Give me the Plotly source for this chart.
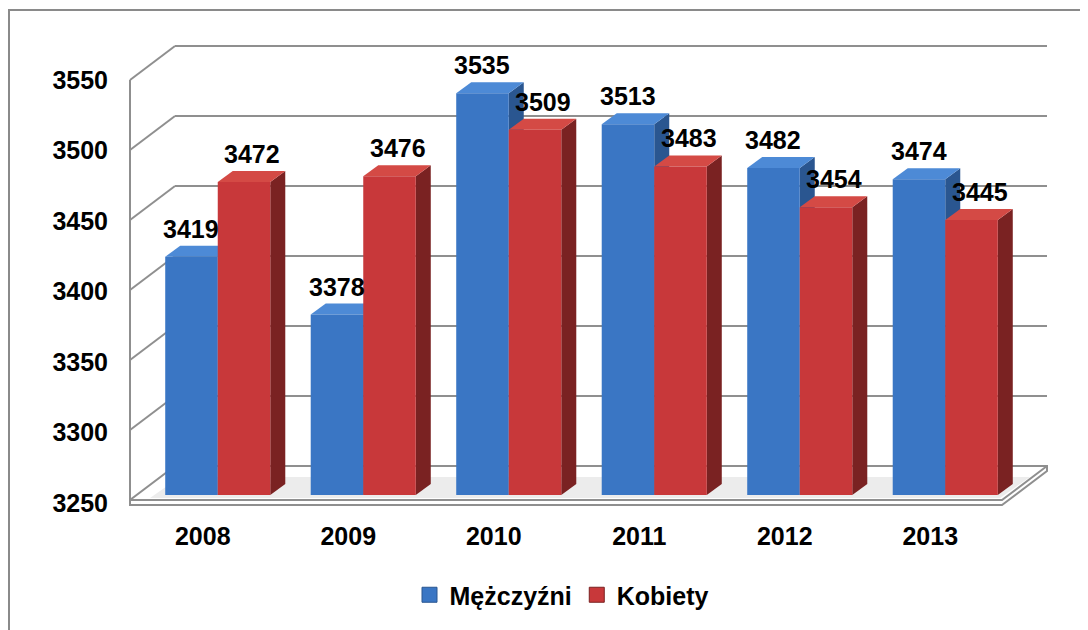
import plotly.graph_objects as go

# ---- data ----
years = ["2008", "2009", "2010", "2011", "2012", "2013"]
men = [3419, 3378, 3535, 3513, 3482, 3474]
women = [3472, 3476, 3509, 3483, 3454, 3445]
series_names = ["Mężczyźni", "Kobiety"]
y_ticks = [3250, 3300, 3350, 3400, 3450, 3500, 3550]
y_min, y_max = 3250, 3550

# ---- layout geometry ----
# the page body has an 8px default margin, so screen positions are offset by OFF
W, H = 1088, 630
OFF = 8
PLOT_L, PLOT_R, PLOT_T, PLOT_B = 145, 1018, 72, 495   # screen pixels of plot area
ML = PLOT_L - OFF
MT = PLOT_T - OFF
MR = W - (PLOT_R - OFF)
MB = H - (PLOT_B - OFF)
PW = PLOT_R - PLOT_L
PH = PLOT_B - PLOT_T
FONT = "Arial, Liberation Sans, sans-serif"

def px_x(px):
    return (px - PLOT_L) / PW

def px_y(py):
    return (PLOT_B - py) / PH

x_idx = list(range(len(years)))
bargap = 0.278
bw = (1 - bargap) / 2
# depth of bars in axis units
dx = 15 / PW * len(years)
dy = 11 / PH * (y_max - y_min)

blue_front, blue_top, blue_side = "#3a76c4", "#4d8ad6", "#2a5690"
red_front, red_top, red_side = "#c8383a", "#d44a45", "#7a2222"
grid_col = "#8f8f8f"

fig = go.Figure()
fig.add_trace(go.Bar(x=x_idx, y=[v - y_min for v in men], base=y_min, name=series_names[0],
                     marker=dict(color=blue_front, line=dict(width=0)), hoverinfo="skip",
                     showlegend=False))
fig.add_trace(go.Bar(x=x_idx, y=[v - y_min for v in women], base=y_min, name=series_names[1],
                     marker=dict(color=red_front, line=dict(width=0)), hoverinfo="skip",
                     showlegend=False))
# legend entries with larger square keys
for nm, col, lc in [(series_names[0], blue_front, "#2a5690"), (series_names[1], red_front, "#7a2222")]:
    fig.add_trace(go.Scatter(x=[None], y=[None], mode="markers", name=nm,
                             marker=dict(symbol="square", size=15, color=col,
                                         line=dict(color=lc, width=1)),
                             hoverinfo="skip"))

shapes = []
# outer chart border
shapes.append(dict(type="rect", xref="paper", yref="paper", x0=px_x(9), x1=px_x(1110),
                   y0=px_y(10), y1=px_y(660), line=dict(color="#8a8a8a", width=2),
                   fillcolor="white", layer="below"))

# wall / gridlines (front plane & back plane)
def front_py(v):
    return 500 - (v - y_min) * 1.4

for v in y_ticks[1:]:
    fy = front_py(v)
    by = fy - 34
    shapes.append(dict(type="line", xref="paper", yref="paper", x0=px_x(130), y0=px_y(fy),
                       x1=px_x(175), y1=px_y(by), line=dict(color=grid_col, width=2), layer="below"))
    shapes.append(dict(type="line", xref="paper", yref="paper", x0=px_x(175), y0=px_y(by),
                       x1=px_x(1047), y1=px_y(by), line=dict(color=grid_col, width=2), layer="below"))
# left wall vertical edge
shapes.append(dict(type="line", xref="paper", yref="paper", x0=px_x(130), y0=px_y(front_py(y_max)),
                   x1=px_x(130), y1=px_y(505), line=dict(color=grid_col, width=2), layer="below"))

# floor slab
def P(px, py):
    return f"{px_x(px)},{px_y(py)}"

floor_path = (f"M{P(130,505)} L{P(1002,505)} L{P(1047,471)} L{P(1047,466)} "
              f"L{P(175,466)} L{P(130,500)} Z")
shapes.append(dict(type="path", xref="paper", yref="paper", path=floor_path,
                   fillcolor="#ffffff", line=dict(color=grid_col, width=2), layer="below"))
shadow_path = f"M{P(150,498)} L{P(1000,498)} L{P(1030,477)} L{P(180,477)} Z"
shapes.append(dict(type="path", xref="paper", yref="paper", path=shadow_path,
                   fillcolor="#ececec", line=dict(width=0), layer="below"))
shapes.append(dict(type="path", xref="paper", yref="paper",
                   path=f"M{P(130,500)} L{P(1002,500)} L{P(1047,466)}",
                   line=dict(color=grid_col, width=2), layer="below"))

# 3D faces of bars
def faces(x0, x1, v, top_col, side_col):
    out = []
    side = (f"M{x1},{y_min} L{x1},{v} L{x1 + dx},{v + dy} L{x1 + dx},{y_min + dy} Z")
    out.append(dict(type="path", xref="x", yref="y", path=side, fillcolor=side_col,
                    line=dict(width=0), layer="below"))
    top = (f"M{x0},{v} L{x1},{v} L{x1 + dx},{v + dy} L{x0 + dx},{v + dy} Z")
    out.append(dict(type="path", xref="x", yref="y", path=top, fillcolor=top_col,
                    line=dict(width=0), layer="below"))
    return out

for i in x_idx:
    shapes += faces(i - bw, i, men[i], blue_top, blue_side)
    shapes += faces(i, i + bw, women[i], red_top, red_side)

annotations = []
for i in x_idx:
    annotations.append(dict(x=i - bw / 2, y=men[i], xref="x", yref="y", text=str(men[i]),
                            showarrow=False, yanchor="bottom", yshift=12, xshift=0,
                            font=dict(family=FONT, size=25, color="black", weight="bold")))
    annotations.append(dict(x=i + bw / 2, y=women[i], xref="x", yref="y", text=str(women[i]),
                            showarrow=False, yanchor="bottom", yshift=12, xshift=8,
                            font=dict(family=FONT, size=25, color="black", weight="bold")))

fig.update_layout(
    width=W, height=H,
    margin=dict(l=ML, r=MR, t=MT, b=MB, pad=0),
    paper_bgcolor="white", plot_bgcolor="rgba(0,0,0,0)",
    barmode="group", bargap=bargap, bargroupgap=0,
    font=dict(family=FONT, size=25, color="black", weight="bold"),
    shapes=shapes, annotations=annotations,
    showlegend=True,
    legend=dict(orientation="h", x=px_x(562), xanchor="center", y=px_y(595), yanchor="middle",
                font=dict(family=FONT, size=25, color="black", weight="bold"),
                bgcolor="rgba(0,0,0,0)", itemwidth=30, traceorder="normal"),
    xaxis=dict(range=[-0.5, len(years) - 0.5], tickvals=x_idx, ticktext=years,
               showgrid=False, zeroline=False, showline=False, ticks="",
               ticklabelstandoff=24, ticklabelshift=-15, fixedrange=True),
    yaxis=dict(range=[y_min, y_max], tickvals=y_ticks, showgrid=False, zeroline=False,
               showline=False, ticks="", ticklabelstandoff=36, ticklabelshift=8,
               fixedrange=True),
)

fig.write_html("out.html")
